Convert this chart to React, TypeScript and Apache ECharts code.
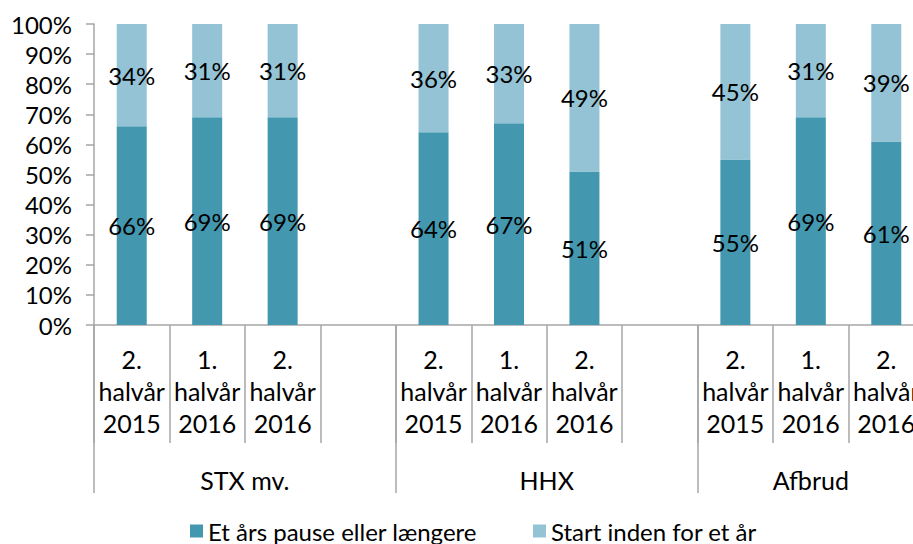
import React, { useEffect, useRef } from "react";
import * as echarts from "echarts";

const categories = [
  "2.\nhalvår\n2015",
  "1.\nhalvår\n2016",
  "2.\nhalvår\n2016",
  "",
  "2.\nhalvår\n2015",
  "1.\nhalvår\n2016",
  "2.\nhalvår\n2016",
  "",
  "2.\nhalvår\n2015",
  "1.\nhalvår\n2016",
  "2.\nhalvår\n2016",
];
const pauseValues = [66, 69, 69, null, 64, 67, 51, null, 55, 69, 61];
const startValues = [34, 31, 31, null, 36, 33, 49, null, 45, 31, 39];
const groupNames = ["STX mv.", "HHX", "Afbrud"];
const groupBounds = [0, 4, 8, 11];
const groupCenters = [2, 6, 9.5];
const yTicks = [0, 10, 20, 30, 40, 50, 60, 70, 80, 90, 100];
const seriesNames = ["Et års pause eller længere", "Start inden for et år"];

const FONT = "Lato";
const AXIS_COLOR = "#a6a6a6";

export default function App() {
  const ref = useRef<HTMLDivElement>(null);
  useEffect(() => {
    if (!ref.current) return;
    const chart = echarts.init(ref.current, undefined, { renderer: "svg" });
    const labelStyle = {
      show: true,
      position: "inside",
      color: "#000",
      fontFamily: FONT,
      fontSize: 24,
      formatter: (p: any) => (p.value == null ? "" : p.value + "%"),
    };
    chart.setOption({
      animation: false,
      textStyle: { fontFamily: FONT },
      grid: {
        left: 94,
        right: -11,
        top: 24,
        bottom: 219,
        containLabel: false,
        outerBoundsMode: "none",
      },
      legend: {
        data: seriesNames,
        left: 185,
        top: 512,
        icon: "rect",
        itemWidth: 13,
        itemHeight: 13,
        itemGap: 56,
        textStyle: { fontFamily: FONT, fontSize: 24, lineHeight: 28, color: "#000" },
      },
      xAxis: [
        {
          type: "category",
          data: categories,
          position: "bottom",
          axisLine: { show: true, lineStyle: { color: AXIS_COLOR, width: 1.5 } },
          axisTick: {
            show: true,
            interval: 0,
            alignWithLabel: false,
            length: 118,
            lineStyle: { color: AXIS_COLOR, width: 1.5 },
          },
          axisLabel: {
            interval: 0,
            color: "#000",
            fontFamily: FONT,
            fontSize: 25,
            lineHeight: 32,
            margin: 18,
          },
          splitLine: { show: false },
        },
        {
          type: "value",
          min: 0,
          max: 11,
          position: "bottom",
          axisLine: { show: false },
          axisTick: {
            show: true,
            customValues: groupBounds,
            length: 168,
            lineStyle: { color: AXIS_COLOR, width: 1.5 },
          },
          axisLabel: {
            customValues: groupCenters,
            color: "#000",
            fontFamily: FONT,
            fontSize: 25,
            lineHeight: 32,
            margin: 139,
            formatter: (v: number) => groupNames[groupCenters.indexOf(v)] ?? "",
          },
          splitLine: { show: false },
        },
      ],
      yAxis: {
        type: "value",
        min: yTicks[0],
        max: yTicks[yTicks.length - 1],
        interval: 10,
        axisLine: { show: true, lineStyle: { color: AXIS_COLOR, width: 1.5 } },
        axisTick: { show: true, length: 8, lineStyle: { color: AXIS_COLOR, width: 1.5 } },
        axisLabel: {
          color: "#000",
          fontFamily: FONT,
          fontSize: 24,
          margin: 22,
          formatter: "{value}%",
        },
        splitLine: { show: false },
      },
      series: [
        {
          name: seriesNames[0],
          type: "bar",
          stack: "total",
          xAxisIndex: 0,
          barWidth: 30,
          data: pauseValues,
          itemStyle: { color: "#4398b0" },
          label: labelStyle,
        },
        {
          name: seriesNames[1],
          type: "bar",
          stack: "total",
          xAxisIndex: 0,
          barWidth: 30,
          data: startValues,
          itemStyle: { color: "#93c3d5" },
          label: labelStyle,
        },
      ],
    });
    return () => chart.dispose();
  }, []);
  return (
    <div
      ref={ref}
      style={{ position: "fixed", left: 0, top: 0, width: 913, height: 544, background: "#fff" }}
    />
  );
}
